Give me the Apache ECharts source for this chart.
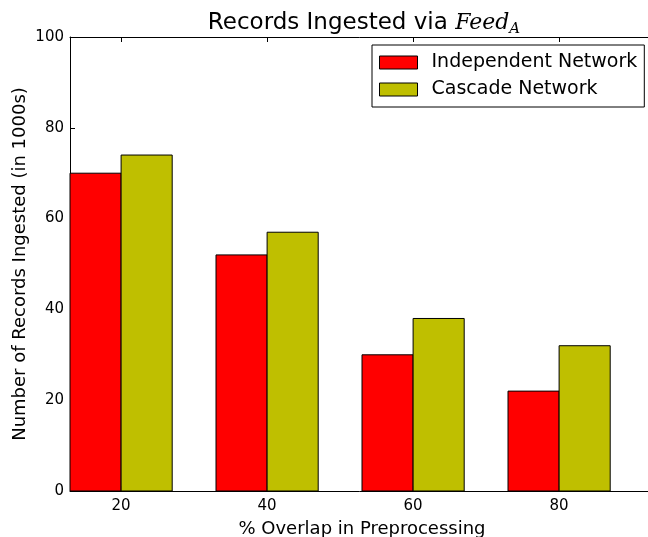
<!DOCTYPE html>
<html><head><meta charset="utf-8">
<script src="https://cdn.jsdelivr.net/npm/echarts@6/dist/echarts.min.js"></script>
<style>html,body{margin:0;padding:0;background:#fff}#c{width:648px;height:537px}</style>
</head><body><div id="c"></div>
<script>
const categories = ['20', '40', '60', '80'];
const independent = [70, 52, 30, 22];
const cascade = [74, 57, 38, 32];
const yTicks = [0, 20, 40, 60, 80, 100];
const seriesNames = ['Independent Network', 'Cascade Network'];
const colors = ['#ff0000', '#bfbf00'];
const W = 0.35;

function makeRender(offset) {
  return function (params, api) {
    const x = api.value(0), y = api.value(1);
    const p0 = api.coord([x + offset, y]);
    const p1 = api.coord([x + offset + W, 0]);
    return {
      type: 'rect',
      shape: { x: p0[0], y: p0[1], width: p1[0] - p0[0], height: p1[1] - p0[1] },
      style: { fill: api.visual('color'), stroke: '#000', lineWidth: 1 }
    };
  };
}
const FONT = 'DejaVu Sans';
const chart = echarts.init(document.getElementById('c'), null, { renderer: 'canvas' });
const tickIdx = categories.map((c, i) => i);
const axisCommon = {
  type: 'value', min: -0.35, max: 3.65,
  axisLine: { show: true, onZero: false, lineStyle: { color: '#000', width: 1 } },
  axisTick: { show: true, inside: true, length: 5, customValues: tickIdx, lineStyle: { color: '#000' } },
  splitLine: { show: false }
};
chart.setOption({
  animation: false,
  title: {
    text: '{a|Records Ingested via }{b|Feed}{c|A}',
    left: 359, textAlign: 'center', top: 5,
    textStyle: {
      fontWeight: 'normal',
      rich: {
        a: { fontFamily: FONT, fontSize: 23, fontWeight: 'normal', color: '#000' },
        b: { fontFamily: 'DejaVu Serif', fontStyle: 'italic', fontWeight: 'normal', fontSize: 22, color: '#000' },
        c: { fontFamily: 'DejaVu Serif', fontStyle: 'italic', fontWeight: 'normal', fontSize: 15, color: '#000', padding: [12, 0, 0, 0] }
      }
    }
  },
  legend: {
    orient: 'vertical', left: 372, top: 45,
    backgroundColor: '#fff',
    borderColor: '#000', borderWidth: 1, borderRadius: 0,
    padding: [8, 7, 8, 7],
    itemWidth: 38, itemHeight: 13, itemGap: 8,
    icon: 'rect',
    textStyle: { fontFamily: FONT, fontSize: 19, color: '#000', padding: [0, 0, 0, 9] },
    data: seriesNames.map((n, i) => ({ name: n, itemStyle: { color: colors[i], borderColor: '#000', borderWidth: 1 } }))
  },
  grid: { left: 70, top: 37, bottom: 46, right: -6, outerBoundsMode: 'none', containLabel: false },
  xAxis: [
    Object.assign({}, axisCommon, {
      position: 'bottom',
      name: '% Overlap in Preprocessing', nameLocation: 'middle', nameGap: 29,
      nameTextStyle: { fontFamily: FONT, fontSize: 18, color: '#000' },
      axisLabel: { customValues: tickIdx, fontFamily: FONT, fontSize: 15, color: '#000', margin: 8,
        formatter: v => categories[Math.round(v)] }
    }),
    Object.assign({}, axisCommon, { position: 'top', axisLabel: { show: false } })
  ],
  yAxis: {
    type: 'value', min: 0, max: 100, interval: 20,
    name: 'Number of Records Ingested (in 1000s)', nameLocation: 'middle', nameGap: 41,
    nameMoveOverlap: false,
    nameTextStyle: { fontFamily: FONT, fontSize: 18, color: '#000' },
    axisLine: { show: true, onZero: false, lineStyle: { color: '#000', width: 1 } },
    axisTick: { show: true, inside: true, length: 5, lineStyle: { color: '#000' } },
    axisLabel: { fontFamily: FONT, fontSize: 15, color: '#000', margin: 6,
      formatter: v => yTicks.includes(v) ? String(v) : '' },
    splitLine: { show: false }
  },
  series: [
    { name: seriesNames[0], type: 'custom', itemStyle: { color: colors[0] },
      renderItem: makeRender(-W), data: independent.map((v, i) => [i, v]), z: 2 },
    { name: seriesNames[1], type: 'custom', itemStyle: { color: colors[1] },
      renderItem: makeRender(0), data: cascade.map((v, i) => [i, v]), z: 2 }
  ]
});
</script></body></html>
